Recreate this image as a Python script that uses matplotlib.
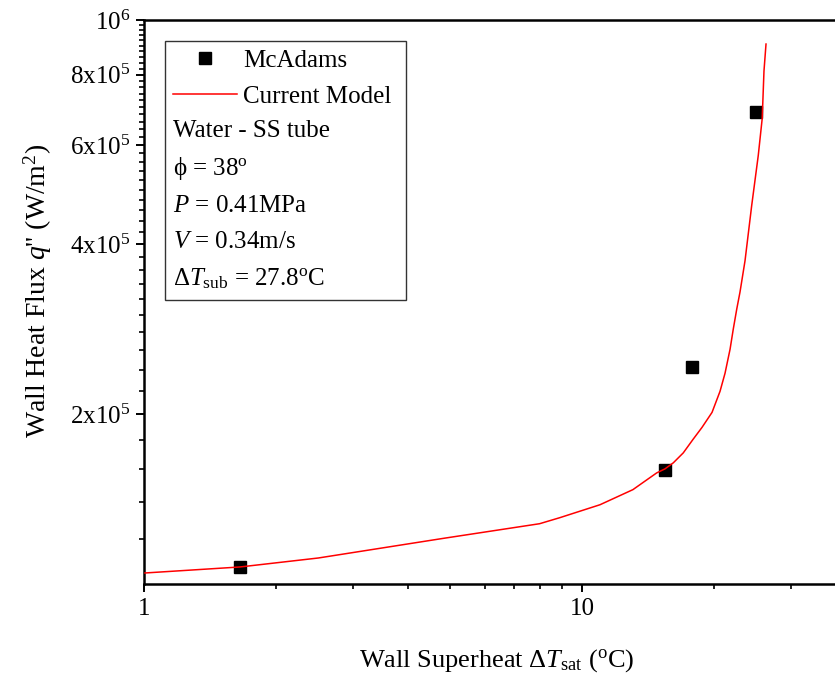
import matplotlib
matplotlib.use('Agg')
import matplotlib.pyplot as plt
from matplotlib.ticker import FixedLocator, FixedFormatter, NullFormatter
from matplotlib.patches import Rectangle

plt.rcParams['font.family'] = ['Liberation Serif', 'DejaVu Serif']
plt.rcParams['mathtext.fontset'] = 'custom'
plt.rcParams['mathtext.rm'] = 'Liberation Serif'
plt.rcParams['mathtext.it'] = 'Liberation Serif:italic'
plt.rcParams['mathtext.bf'] = 'Liberation Serif:bold'

# Experimental data (McAdams)
exp_dT = [1.656, 15.47, 17.8, 24.93]
exp_q = [1.072e5, 1.595e5, 2.423e5, 6.86e5]

# Current model curve
model_dT = [1.005, 1.656, 2.50, 4.83, 8.0, 8.9, 10.99, 13.07, 13.56, 14.81,
            15.47, 16.16, 17.03, 17.92, 18.79, 19.81, 20.66, 21.21, 21.78,
            22.15, 22.56, 22.95, 23.56, 24.40, 25.26, 25.79, 26.03, 26.31]
model_q = [1.046e5, 1.072e5, 1.112e5, 1.205e5, 1.279e5, 1.311e5, 1.382e5,
           1.470e5, 1.500e5, 1.574e5, 1.600e5, 1.640e5, 1.708e5, 1.804e5,
           1.895e5, 2.015e5, 2.196e5, 2.364e5, 2.608e5, 2.831e5, 3.073e5,
           3.295e5, 3.741e5, 4.686e5, 5.752e5, 6.692e5, 8.117e5, 9.065e5]

y_major = [2e5, 4e5, 6e5, 8e5, 1e6]
y_major_labels = ['2x10$^5$', '4x10$^5$', '6x10$^5$', '8x10$^5$', '10$^6$']
x_major = [1, 10]
x_major_labels = ['1', '10']
x_minor = [2, 3, 4, 5, 6, 7, 8, 9, 20, 30]

info_lines = ['Water - SS tube',
              'ϕ = 38$^{\\rm o}$',
              '$P$ = 0.41MPa',
              '$V$ = 0.34m/s',
              '$\\Delta T_{\\rm sub}$ = 27.8$^{\\rm o}$C']

fig = plt.figure(figsize=(8.35, 6.85), dpi=100)
ax = fig.add_axes([144/835, 1-584/685, (845.7-144)/835, (584-20)/685])
ax.set_xscale('log')
ax.set_yscale('log')

ax.plot(exp_dT, exp_q, ls='none', marker='s', ms=9, color='black',
        label='McAdams', zorder=3)
ax.plot(model_dT, model_q, color='red', lw=1.1, label='Current Model', zorder=4)

ax.set_xlim(1, 40)
ax.set_ylim(1e5, 1e6)

ax.xaxis.set_major_locator(FixedLocator(x_major))
ax.xaxis.set_major_formatter(FixedFormatter(x_major_labels))
ax.xaxis.set_minor_locator(FixedLocator(x_minor))
ax.xaxis.set_minor_formatter(NullFormatter())

y_minor = [v * 1e4 for v in range(12, 100, 2) if (v * 1e4) not in y_major]
ax.yaxis.set_major_locator(FixedLocator(y_major))
ax.yaxis.set_major_formatter(FixedFormatter(y_major_labels))
ax.yaxis.set_minor_locator(FixedLocator(y_minor))
ax.yaxis.set_minor_formatter(NullFormatter())

ax.tick_params(which='major', direction='out', length=6, width=1.4,
               labelsize=18, colors='black', pad=4)
ax.tick_params(which='minor', direction='out', length=3.5, width=1.2)
for s in ax.spines.values():
    s.set_linewidth(1.8)

ax.set_xlabel('Wall Superheat $\\Delta T_{\\rm sat}$ ($^{\\rm o}$C)', fontsize=19)
ax.set_ylabel("Wall Heat Flux $q$'' (W/m$^{2}$)", fontsize=20)
ax.xaxis.set_label_coords(0.503, -0.112)
ax.yaxis.set_label_coords(-0.128, 0.52)

ax.legend(loc='upper left', bbox_to_anchor=(0.0413, 0.948), frameon=False,
          fontsize=18, handlelength=2.56, handletextpad=0.25, borderaxespad=0,
          borderpad=0, labelspacing=0.55)

ax.add_patch(Rectangle((0.030, 0.503), 0.344, 0.46, transform=ax.transAxes,
                       fill=False, lw=1.0, ec='#333333', zorder=5))
ys = [0.803, 0.737, 0.671, 0.6055, 0.5415]
for t, yy in zip(info_lines, ys):
    ax.text(0.0413, yy, t, transform=ax.transAxes, fontsize=18, va='center', ha='left')

fig.savefig('out.png', dpi=100)
